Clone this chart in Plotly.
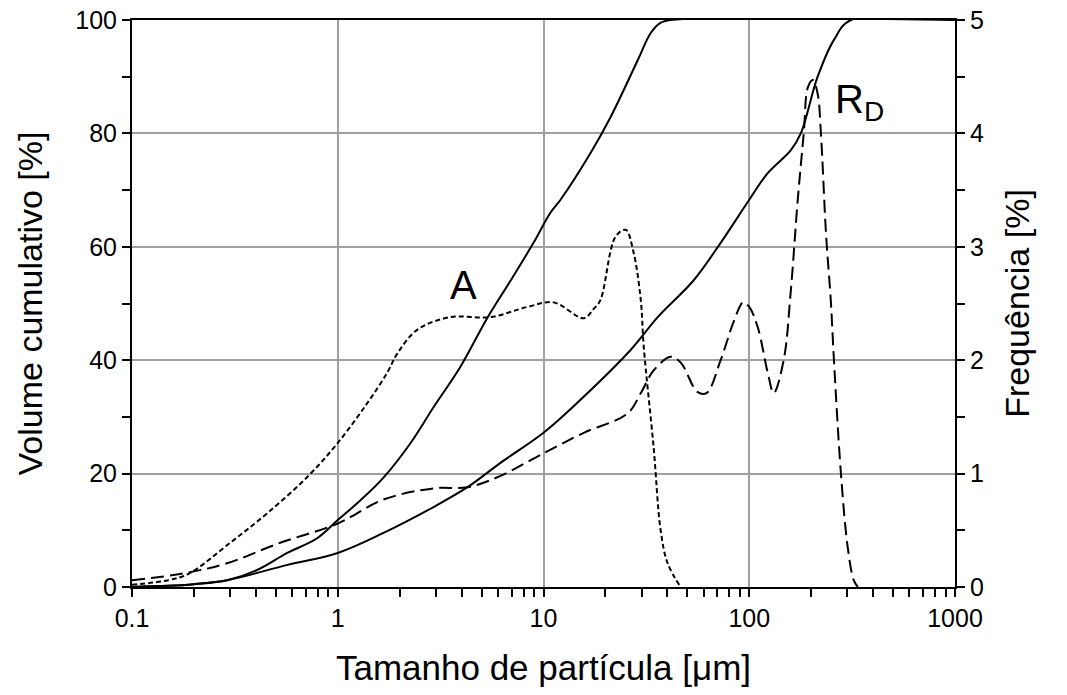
import numpy as np
import plotly.graph_objects as go

# ---------------- data ----------------
# Cumulative volume, sample A (solid, steeper) [left axis, %]
a_cum_x = [0.1, 0.15, 0.2, 0.29, 0.406, 0.568, 0.794, 1.0, 1.29, 1.66, 2.26, 2.92, 3.94, 5.34,
           6.91, 8.94, 10.8, 12.1, 16.9, 21.2, 28.7, 33.2, 37.0, 41.5, 1000]
a_cum_y = [0, 0.2, 0.5, 1.2, 3.0, 6.0, 8.6, 11.8, 15.3, 19.2, 25.4, 31.7, 38.8, 47.5,
           54.0, 60.7, 66.0, 68.3, 76.5, 82.9, 92.9, 97.7, 99.5, 100, 100]

# Cumulative volume, sample RD (solid, flatter) [left axis, %]
rd_cum_x = [0.1, 0.15, 0.2, 0.29, 0.57, 1.0, 1.66, 2.92, 4.27, 6.18, 10.0, 14.6, 26.5, 35.9,
            53.7, 72.6, 100, 123, 159, 178, 215, 258, 312, 1000]
rd_cum_y = [0, 0.2, 0.5, 1.2, 3.9, 6.0, 9.5, 14.1, 17.6, 21.9, 27.2, 32.5, 41.8, 47.6,
            54.1, 60.7, 68.3, 73.0, 77.0, 80.0, 90.0, 96.5, 100, 100]

# Frequency, sample A (short dash) [right axis, %]
a_freq_x = [0.1, 0.15, 0.19, 0.3, 0.454, 0.711, 1.0, 1.39, 1.74, 1.95, 2.44, 3.53, 5.52, 8.36,
            11.2, 15.7, 17.5, 18.9, 22.4, 25.1, 27.4, 29.7, 30.7, 34.3, 37.1, 40.1, 46.4]
a_freq_y = [0.02, 0.06, 0.12, 0.39, 0.65, 0.97, 1.27, 1.62, 1.89, 2.06, 2.27, 2.38, 2.38, 2.47,
            2.51, 2.37, 2.45, 2.53, 3.09, 3.15, 2.95, 2.53, 2.12, 1.23, 0.5, 0.21, 0.0]

# Frequency, sample RD (long dash) [right axis, %]
rd_freq_x = [0.1, 0.178, 0.29, 0.525, 1.0, 1.66, 2.92, 4.27, 6.18, 10.0, 15.7, 25.6, 29.7, 34.3,
             41.5, 46.4, 56.0, 62.0, 72.6, 84.4, 93.4, 100, 110, 123, 131.5, 147, 159, 172,
             184, 193, 204, 215, 223, 236, 249, 258, 279, 301, 322, 337]
rd_freq_y = [0.06, 0.12, 0.21, 0.39, 0.56, 0.77, 0.87, 0.88, 0.98, 1.18, 1.36, 1.53, 1.71, 1.91,
             2.03, 1.98, 1.72, 1.71, 2.0, 2.35, 2.51, 2.47, 2.29, 1.89, 1.71, 2.0, 2.6, 3.41,
             4.0, 4.41, 4.47, 4.35, 4.0, 3.12, 2.53, 2.0, 1.0, 0.35, 0.06, 0.0]

x_tick_vals = [0.1, 1, 10, 100, 1000]
x_tick_text = ["0.1", "1", "10", "100", "1000"]
x_minor_vals = [m * d for d in [0.1, 1, 10, 100] for m in range(2, 10)]

label_a = ("A", 4.08, 53.3)
label_rd = ("R<sub>D</sub>", 345, 85.5)

FONT = "Liberation Sans, Arial, sans-serif"
BLACK = "#000000"
GRID = "#a0a0a0"

fig = go.Figure()
fig.add_trace(go.Scatter(x=a_cum_x, y=a_cum_y, mode="lines", line=dict(color=BLACK, width=2),
                         line_shape="spline", name="A cumulativo", yaxis="y"))
fig.add_trace(go.Scatter(x=rd_cum_x, y=rd_cum_y, mode="lines", line=dict(color=BLACK, width=2),
                         line_shape="spline", name="RD cumulativo", yaxis="y"))
fig.add_trace(go.Scatter(x=a_freq_x, y=a_freq_y, mode="lines",
                         line=dict(color=BLACK, width=2, dash="5px,3px"),
                         line_shape="spline", name="A frequência", yaxis="y2"))
fig.add_trace(go.Scatter(x=rd_freq_x, y=rd_freq_y, mode="lines",
                         line=dict(color=BLACK, width=2, dash="13px,6px"),
                         line_shape="spline", name="RD frequência", yaxis="y2"))

for text, xv, yv in [label_a, label_rd]:
    fig.add_annotation(text=text, x=np.log10(xv), y=yv, xref="x", yref="y",
                       showarrow=False, font=dict(family=FONT, size=40, color=BLACK))

fig.update_layout(
    width=1067, height=695,
    margin=dict(l=132, r=112, t=20, b=108, autoexpand=False),
    paper_bgcolor="white", plot_bgcolor="white",
    showlegend=False,
    font=dict(family=FONT, size=25, color=BLACK),
    xaxis=dict(
        type="log", range=[-1, 3], automargin=False,
        tickmode="array", tickvals=x_tick_vals, ticktext=x_tick_text,
        ticks="outside", ticklen=8, tickwidth=2, tickcolor=BLACK,
        minor=dict(tickmode="array", tickvals=x_minor_vals, ticks="outside",
                   ticklen=8, tickwidth=2, tickcolor=BLACK, showgrid=False),
        showgrid=True, gridcolor=GRID, gridwidth=2,
        showline=True, linecolor=BLACK, linewidth=2, mirror=True,
        zeroline=False,
        tickfont=dict(family=FONT, size=25, color=BLACK),
        title=dict(text="Tamanho de partícula [μm]", standoff=24,
                   font=dict(family=FONT, size=35, color=BLACK)),
    ),
    yaxis=dict(
        range=[0, 100], dtick=20, tick0=0, automargin=False,
        ticks="outside", ticklen=8, tickwidth=2, tickcolor=BLACK,
        minor=dict(dtick=10, ticks="outside", ticklen=8, tickwidth=2,
                   tickcolor=BLACK, showgrid=False),
        showgrid=True, gridcolor=GRID, gridwidth=2,
        showline=True, linecolor=BLACK, linewidth=2,
        zeroline=False,
        tickfont=dict(family=FONT, size=25, color=BLACK),
        title=dict(text="Volume cumulativo [%]", standoff=22,
                   font=dict(family=FONT, size=34, color=BLACK)),
    ),
    yaxis2=dict(
        overlaying="y", side="right", automargin=False,
        range=[0, 5], dtick=1, tick0=0,
        ticks="outside", ticklen=8, tickwidth=2, tickcolor=BLACK,
        minor=dict(dtick=0.5, ticks="outside", ticklen=8, tickwidth=2,
                   tickcolor=BLACK, showgrid=False),
        showgrid=False,
        showline=True, linecolor=BLACK, linewidth=2,
        zeroline=False,
        tickfont=dict(family=FONT, size=25, color=BLACK),
        title=dict(text="Frequência [%]", standoff=22,
                   font=dict(family=FONT, size=34, color=BLACK)),
    ),
)

fig.write_html("out.html")
